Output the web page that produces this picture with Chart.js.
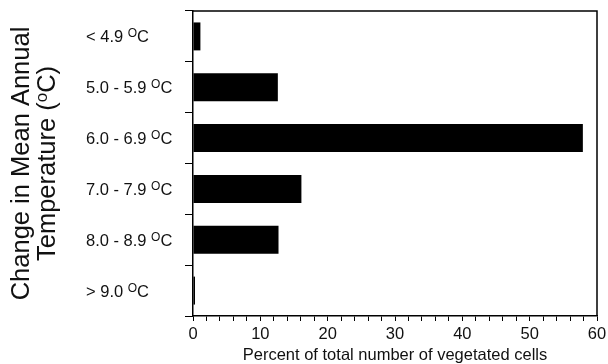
<!DOCTYPE html>
<html>
<head>
<meta charset="utf-8">
<script src="https://cdn.jsdelivr.net/npm/chart.js@4/dist/chart.umd.min.js"></script>
<style>
  body { margin: 0; background: #fff; }
  #chart { display: block; }
</style>
</head>
<body>
<canvas id="chart" width="608" height="364"></canvas>
<script>
// temperature classes (label parts: text before the superscript o, then "C")
const categories = ['< 4.9', '5.0 - 5.9', '6.0 - 6.9', '7.0 - 7.9', '8.0 - 8.9', '> 9.0'];
const percentValues = [1.1, 12.6, 57.9, 16.1, 12.7, 0.3];
const xTickLabels = [0, 10, 20, 30, 40, 50, 60];
const yTitleLines = ['Change in Mean Annual', 'Temperature (', 'C)'];
const xTitle = 'Percent of total number of vegetated cells';

const FONT = '"Liberation Sans", Arial, sans-serif';

// draws the frame, the category labels with a raised "o", and the rotated y title
const decorations = {
    id: 'decorations',
    afterDraw(chart) {
        const ctx = chart.ctx;
        const area = chart.chartArea;
        const yScale = chart.scales.y;
        ctx.save();
        // top and right sides of the box
        ctx.strokeStyle = '#000';
        ctx.lineWidth = 1.5;
        ctx.beginPath();
        ctx.moveTo(area.left, area.top);
        ctx.lineTo(area.right, area.top);
        ctx.lineTo(area.right, area.bottom);
        ctx.stroke();

        // category labels
        ctx.fillStyle = '#111';
        ctx.textBaseline = 'alphabetic';
        ctx.textAlign = 'left';
        categories.forEach((cat, i) => {
            const y = yScale.getPixelForValue(i) + 6;
            let x = 86;
            ctx.font = '16.5px ' + FONT;
            ctx.fillText(cat + ' ', x, y);
            x += ctx.measureText(cat + ' ').width;
            ctx.font = '12px ' + FONT;
            ctx.fillText('O', x, y - 5);
            x += ctx.measureText('O').width;
            ctx.font = '16.5px ' + FONT;
            ctx.fillText('C', x, y);
        });

        // y axis title, two rotated lines
        const cy = (area.top + area.bottom) / 2;
        ctx.translate(0, cy);
        ctx.rotate(-Math.PI / 2);
        ctx.textAlign = 'center';
        ctx.textBaseline = 'middle';
        ctx.font = '25.5px ' + FONT;
        ctx.fillText(yTitleLines[0], 0, 22);
        // second line: "Temperature (" + raised o + "C)"
        const w1 = ctx.measureText(yTitleLines[1]).width;
        const w3 = ctx.measureText(yTitleLines[2]).width;
        ctx.font = '17px ' + FONT;
        const w2 = ctx.measureText('o').width;
        let x = -(w1 + w2 + w3) / 2;
        ctx.textAlign = 'left';
        ctx.font = '25.5px ' + FONT;
        ctx.fillText(yTitleLines[1], x, 48);
        x += w1;
        ctx.font = '17px ' + FONT;
        ctx.fillText('o', x, 42);
        x += w2;
        ctx.font = '25.5px ' + FONT;
        ctx.fillText(yTitleLines[2], x, 48);
        ctx.restore();
    }
};

new Chart(document.getElementById('chart'), {
    type: 'bar',
    data: {
        labels: categories,
        datasets: [{
            data: percentValues,
            backgroundColor: '#000',
            borderWidth: 0,
            categoryPercentage: 1,
            barPercentage: 0.55
        }]
    },
    options: {
        indexAxis: 'y',
        responsive: false,
        animation: false,
        devicePixelRatio: 1,
        layout: { padding: { left: 0, right: 11, top: 11, bottom: -1 } },
        plugins: {
            legend: { display: false },
            tooltip: { enabled: false }
        },
        scales: {
            x: {
                min: 0,
                max: 60,
                afterFit(scale) {
                    scale.height = 49;
                    scale.paddingRight = 9;
                },
                ticks: {
                    stepSize: 2,
                    autoSkip: false,
                    maxRotation: 0,
                    color: '#111',
                    padding: 4,
                    font: { family: FONT, size: 16.5 },
                    callback: (v) => xTickLabels.includes(v) ? String(v) : ''
                },
                grid: {
                    drawOnChartArea: false,
                    drawTicks: true,
                    tickLength: 5,
                    color: '#000'
                },
                border: { display: true, color: '#000', width: 1.5 },
                title: {
                    display: true,
                    text: xTitle,
                    color: '#111',
                    font: { family: FONT, size: 16.5 },
                    padding: { top: 0, bottom: 0 }
                }
            },
            y: {
                afterFit(scale) { scale.width = 193; },
                ticks: { display: false },
                grid: {
                    offset: true,
                    drawOnChartArea: false,
                    drawTicks: true,
                    tickLength: 8,
                    color: '#000'
                },
                border: { display: true, color: '#000', width: 1.5 }
            }
        }
    },
    plugins: [decorations]
});
</script>
</body>
</html>
